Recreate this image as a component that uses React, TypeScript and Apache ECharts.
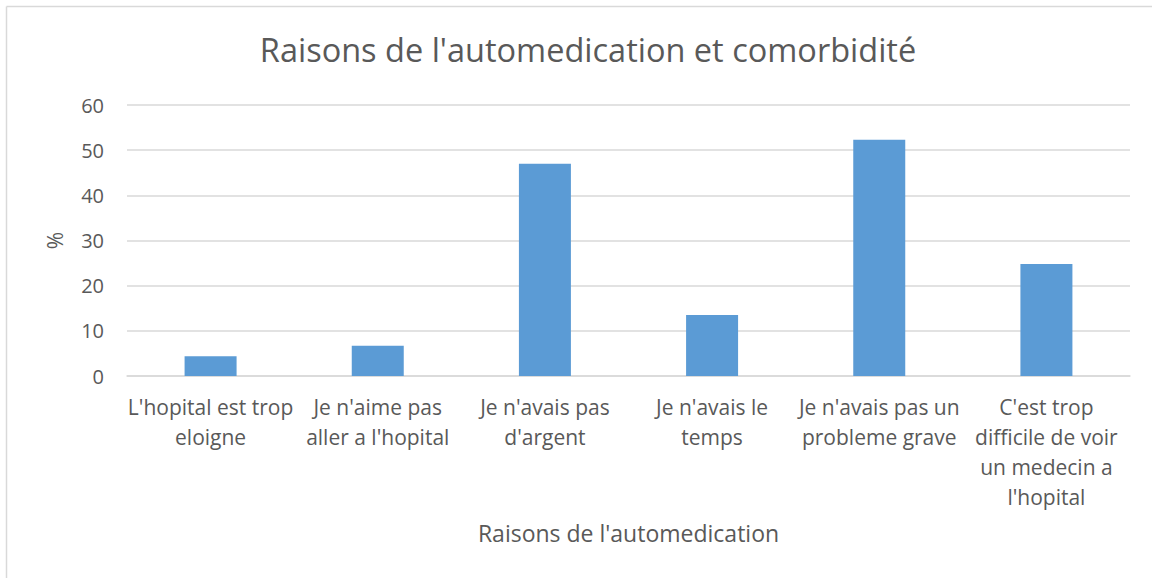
import React, { useEffect, useRef } from "react";
import * as echarts from "echarts";

const titleText = "Raisons de l'automedication et comorbidité";
const xAxisName = "Raisons de l'automedication";
const yAxisName = "%";
const categories = [
  "L'hopital est trop eloigne",
  "Je n'aime pas aller a l'hopital",
  "Je n'avais pas d'argent",
  "Je n'avais le temps",
  "Je n'avais pas un probleme grave",
  "C'est trop difficile de voir un medecin a l'hopital",
];
const tickLabels = [
  "L'hopital est trop\neloigne",
  "Je n'aime pas\naller a l'hopital",
  "Je n'avais pas\nd'argent",
  "Je n'avais le\ntemps",
  "Je n'avais pas un\nprobleme grave",
  "C'est trop\ndifficile de voir\nun medecin a\nl'hopital",
];
const values = [4.4, 6.7, 47.0, 13.5, 52.3, 24.8];

const FONT = "Open Sans";
const TEXT = "#595959";

export default function App() {
  const ref = useRef<HTMLDivElement>(null);
  useEffect(() => {
    if (!ref.current) return;
    const chart = echarts.init(ref.current, null, { renderer: "svg" });
    chart.setOption({
      animation: false,
      backgroundColor: "#ffffff",
      title: {
        text: titleText,
        left: 583,
        textAlign: "center",
        top: 28,
        textStyle: { fontFamily: FONT, fontSize: 32.5, fontWeight: "normal", color: TEXT },
      },
      grid: { left: 127, right: 22, top: 105, bottom: 202, containLabel: false },
      xAxis: {
        type: "category",
        data: categories,
        name: xAxisName,
        nameLocation: "middle",
        nameGap: 145,
        nameTextStyle: { fontFamily: FONT, fontSize: 23, color: TEXT },
        axisLine: { show: true, lineStyle: { color: "#d9d9d9", width: 1.5 } },
        axisTick: { show: false },
        axisLabel: {
          interval: 0,
          margin: 16,
          fontFamily: FONT,
          fontSize: 21,
          color: TEXT,
          lineHeight: 30,
          formatter: (_v: string, i: number) => tickLabels[i],
        },
      },
      yAxis: {
        type: "value",
        min: 0,
        max: 60,
        interval: 10,
        name: yAxisName,
        nameLocation: "middle",
        nameGap: 62,
        nameRotate: 90,
        nameTextStyle: { fontFamily: FONT, fontSize: 21, color: TEXT },
        axisLine: { show: false },
        axisTick: { show: false },
        axisLabel: { margin: 23, fontFamily: FONT, fontSize: 20, color: TEXT },
        splitLine: { lineStyle: { color: "#d9d9d9", width: 1.5 } },
      },
      series: [
        {
          type: "bar",
          data: values,
          barWidth: 52,
          itemStyle: { color: "#5b9bd5" },
        },
      ],
      graphic: [
        { type: "line", shape: { x1: 6.5, y1: 6.5, x2: 1152, y2: 6.5 }, style: { stroke: "#d9d9d9", lineWidth: 1.5 } },
        { type: "line", shape: { x1: 6.5, y1: 6.5, x2: 6.5, y2: 578 }, style: { stroke: "#d9d9d9", lineWidth: 1.5 } },
      ],
    });
    return () => chart.dispose();
  }, []);
  return (
    <div
      ref={ref}
      style={{ position: "absolute", left: 0, top: 0, width: 1152, height: 578 }}
    />
  );
}
